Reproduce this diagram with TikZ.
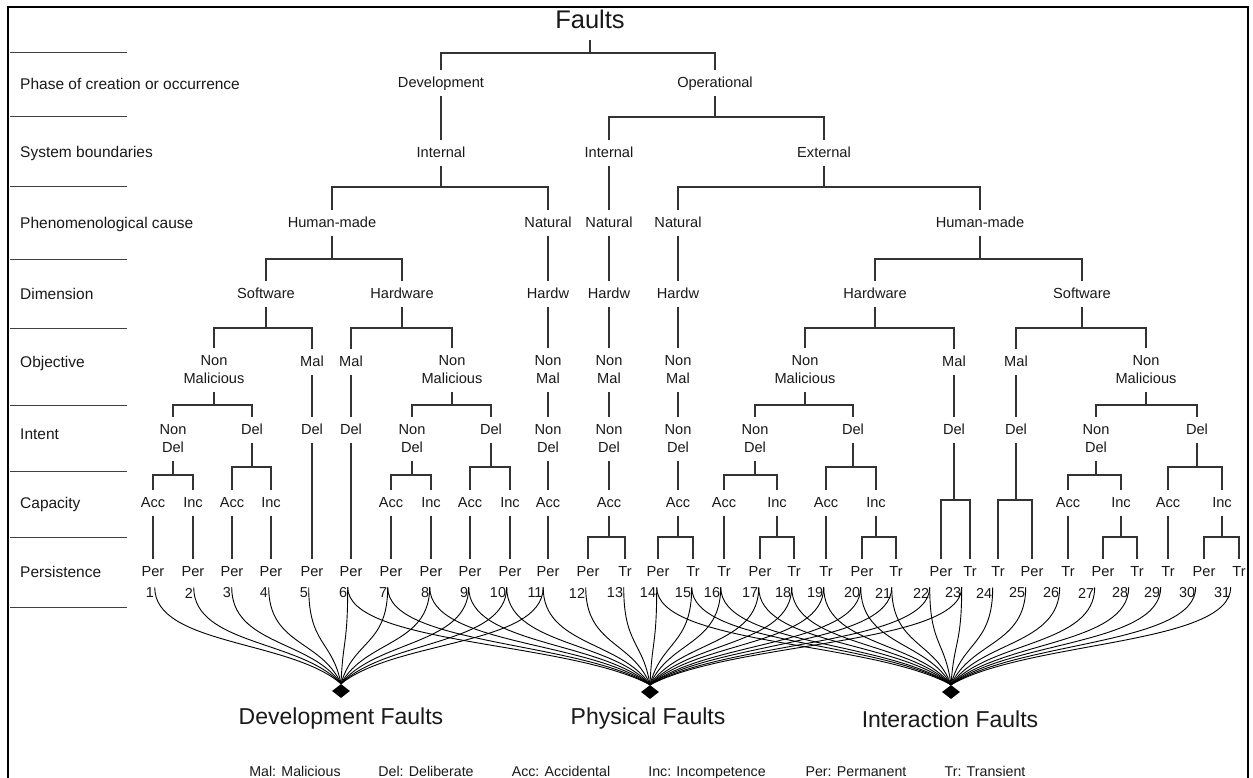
\documentclass[tikz,border=0pt]{standalone}
\usepackage{fontspec}
\setmainfont{Liberation Sans}
\usetikzlibrary{shapes.geometric,calc}
\newcommand{\tsplit}[4]{%
  \draw[edge] (#1.south) -- (#1.south |- 0,#4);
  \draw[edge] (#2.north) -- (#2.north |- 0,#4) -- (#3.north |- 0,#4) -- (#3.north);}
\newcommand{\tlink}[2]{\draw[edge] (#1.south) -- (#2.north);}
\begin{document}
\begin{tikzpicture}[x=1pt,y=-1pt,
  lab/.style={font=\fontsize{14.6}{18}\selectfont, text height=10.5pt, text depth=2pt, inner xsep=1pt, inner ysep=0pt, outer ysep=7pt, text=black!90},
  lab2/.style={font=\fontsize{14.6}{18}\selectfont, align=center, inner sep=0pt, outer ysep=8pt, text=black!90},
  edge/.style={line width=1.1pt, draw=black!80},
  rowlab/.style={anchor=west, font=\fontsize{15.5}{18}\selectfont, text height=11pt, text depth=0pt, inner sep=0pt, text=black!90},
  sepline/.style={line width=1pt, draw=black!75},
  num/.style={font=\fontsize{14.4}{16}\selectfont, inner sep=0.5pt, text=black!90},
  sink/.style={diamond, fill=black, minimum width=18pt, minimum height=14pt, inner sep=0pt},
  big/.style={font=\fontsize{23}{26}\selectfont, inner sep=0pt, text=black!90},
  legend/.style={font=\fontsize{14.2}{16}\selectfont, text height=10.5pt, text depth=0pt, inner sep=0pt, text=black!90},
  curve/.style={line width=0.9pt, draw=black}
]
\useasboundingbox (0,0) rectangle (1253,778);
\fill[white] (0,0) rectangle (1253,778);
% frame
\draw[line width=2.5pt] (8,800) -- (8,7) -- (1248,7) -- (1248,800);
% row separators
\foreach \yy in {53,117,187,259,328,405,471,537,607}
  \draw[sepline] (10,\yy) -- (127,\yy);
% row labels
\node[rowlab] (r1) at (20,84) {Phase of creation or occurrence};
\node[rowlab] (r2) at (20,152) {System boundaries};
\node[rowlab] (r3) at (20,223) {Phenomenological cause};
\node[rowlab] (r4) at (20,294) {Dimension};
\node[rowlab] (r5) at (20,362) {Objective};
\node[rowlab] (r6) at (20,434) {Intent};
\node[rowlab] (r7) at (20,503) {Capacity};
\node[rowlab] (r8) at (20,572) {Persistence};
% root
\node[font=\fontsize{25.5}{28}\selectfont, inner sep=0pt, text depth=0pt, outer ysep=12pt, text=black!90] (faults) at (590,19) {Faults};
% level 1
\node[lab] (dev) at (441,83) {Development};
\node[lab] (op) at (715,83) {Operational};
% level 2
\node[lab] (dint) at (441,153) {Internal};
\node[lab] (oint) at (609,153) {Internal};
\node[lab] (oext) at (824,153) {External};
% level 3
\node[lab] (dhm) at (332,223) {Human-made};
\node[lab] (dnat) at (548,223) {Natural};
\node[lab] (onat) at (609,223) {Natural};
\node[lab] (enat) at (678,223) {Natural};
\node[lab] (ehm) at (980,223) {Human-made};
% level 4
\node[lab] (dsw) at (266,294) {Software};
\node[lab] (dhw) at (402,294) {Hardware};
\node[lab] (dnh) at (548,294) {Hardw};
\node[lab] (onh) at (609,294) {Hardw};
\node[lab] (enh) at (678,294) {Hardw};
\node[lab] (ehw) at (875,294) {Hardware};
\node[lab] (esw) at (1082,294) {Software};
% level 5 objective
\node[lab2] (a1) at (214,370) {Non\\Malicious};
\node[lab] (a2) at (312,362) {Mal};
\node[lab] (a3) at (351,362) {Mal};
\node[lab2] (a4) at (452,370) {Non\\Malicious};
\node[lab2] (a5) at (548,370) {Non\\Mal};
\node[lab2] (a6) at (609,370) {Non\\Mal};
\node[lab2] (a7) at (678,370) {Non\\Mal};
\node[lab2] (a8) at (805,370) {Non\\Malicious};
\node[lab] (a9) at (954,362) {Mal};
\node[lab] (a10) at (1016,362) {Mal};
\node[lab2] (a11) at (1146,370) {Non\\Malicious};
% level 6 intent
\node[lab2] (b1) at (173,439) {Non\\Del};
\node[lab] (b2) at (252,430) {Del};
\node[lab] (b3) at (312,430) {Del};
\node[lab] (b4) at (351,430) {Del};
\node[lab2] (b5) at (412,439) {Non\\Del};
\node[lab] (b6) at (491,430) {Del};
\node[lab2] (b7) at (548,439) {Non\\Del};
\node[lab2] (b8) at (609,439) {Non\\Del};
\node[lab2] (b9) at (678,439) {Non\\Del};
\node[lab2] (b10) at (755,439) {Non\\Del};
\node[lab] (b11) at (853,430) {Del};
\node[lab] (b12) at (954,430) {Del};
\node[lab] (b13) at (1016,430) {Del};
\node[lab2] (b14) at (1096,439) {Non\\Del};
\node[lab] (b15) at (1197,430) {Del};
% level 7 capacity
\foreach \i/\x/\t in {1/153/Acc,2/193/Inc,3/232/Acc,4/271/Inc,5/391/Acc,6/431/Inc,7/470/Acc,8/510/Inc,9/548/Acc,10/609/Acc,11/678/Acc,12/724/Acc,13/777/Inc,14/826/Acc,15/876/Inc,16/1068/Acc,17/1121/Inc,18/1168/Acc,19/1222/Inc}
  \node[lab] (c\i) at (\x,503) {\t};
% level 8 persistence + numbers
\foreach \i/\x/\t/\nx in {1/153/Per/150,2/193/Per/189,3/232/Per/227,4/271/Per/264,5/312/Per/304,6/351/Per/343,7/391/Per/383,8/431/Per/425,9/470/Per/464,10/510/Per/498,11/548/Per/535,12/588/Per/577,13/625/Tr/615,14/658/Per/648,15/693/Tr/683,16/724/Tr/712,17/760/Per/750,18/794/Tr/783,19/826/Tr/815,20/862/Per/852,21/896/Tr/883,22/941/Per/921,23/970/Tr/953,24/998/Tr/984,25/1032/Per/1017,26/1068/Tr/1051,27/1103/Per/1086,28/1137/Tr/1120,29/1168/Tr/1152,30/1204/Per/1187,31/1239/Tr/1222}
{
  \node[lab] (p\i) at (\x,572) {\t};
  \node[num] (n\i) at (\nx,593) {\i};
}
% tree connectors
\tsplit{faults}{dev}{op}{53}
\tlink{dev}{dint}
\tsplit{op}{oint}{oext}{117}
\tsplit{dint}{dhm}{dnat}{187}
\tlink{oint}{onat}
\tsplit{oext}{enat}{ehm}{187}
\tsplit{dhm}{dsw}{dhw}{259}
\tlink{dnat}{dnh}
\tlink{onat}{onh}
\tlink{enat}{enh}
\tsplit{ehm}{ehw}{esw}{259}
\tsplit{dsw}{a1}{a2}{328}
\tsplit{dhw}{a3}{a4}{328}
\tlink{dnh}{a5}
\tlink{onh}{a6}
\tlink{enh}{a7}
\tsplit{ehw}{a8}{a9}{328}
\tsplit{esw}{a10}{a11}{328}
\tsplit{a1}{b1}{b2}{405}
\tlink{a2}{b3}
\tlink{a3}{b4}
\tsplit{a4}{b5}{b6}{405}
\tlink{a5}{b7}
\tlink{a6}{b8}
\tlink{a7}{b9}
\tsplit{a8}{b10}{b11}{405}
\tlink{a9}{b12}
\tlink{a10}{b13}
\tsplit{a11}{b14}{b15}{405}
\tsplit{b1}{c1}{c2}{475}
\tsplit{b2}{c3}{c4}{467}
\tlink{b3}{p5}
\tlink{b4}{p6}
\tsplit{b5}{c5}{c6}{475}
\tsplit{b6}{c7}{c8}{467}
\tlink{b7}{c9}
\tlink{b8}{c10}
\tlink{b9}{c11}
\tsplit{b10}{c12}{c13}{475}
\tsplit{b11}{c14}{c15}{467}
\tsplit{b12}{p22}{p23}{500}
\tsplit{b13}{p24}{p25}{500}
\tsplit{b14}{c16}{c17}{475}
\tsplit{b15}{c18}{c19}{467}
\tlink{c1}{p1}
\tlink{c2}{p2}
\tlink{c3}{p3}
\tlink{c4}{p4}
\tlink{c5}{p7}
\tlink{c6}{p8}
\tlink{c7}{p9}
\tlink{c8}{p10}
\tlink{c9}{p11}
\tsplit{c10}{p12}{p13}{537}
\tsplit{c11}{p14}{p15}{537}
\tlink{c12}{p16}
\tsplit{c13}{p17}{p18}{537}
\tlink{c14}{p19}
\tsplit{c15}{p20}{p21}{537}
\tlink{c16}{p26}
\tsplit{c17}{p27}{p28}{537}
\tlink{c18}{p29}
\tsplit{c19}{p30}{p31}{537}
% sinks
\node[sink] (sd) at (341,691) {};
\node[sink] (sp) at (650,692) {};
\node[sink] (si) at (951,692) {};
% curves
\foreach \i in {1,...,11}
  \draw[curve] (n\i.north east) .. controls ($(n\i.north east)+(0,58)$) and ($(sd.north)!0.27!(n\i.north east |- sd.north)+(0,-44)$) .. (sd.north);
\foreach \i in {6,...,23}
  \draw[curve] (n\i.north east) .. controls ($(n\i.north east)+(0,58)$) and ($(sp.north)!0.27!(n\i.north east |- sp.north)+(0,-44)$) .. (sp.north);
\foreach \i in {14,...,31}
  \draw[curve] (n\i.north east) .. controls ($(n\i.north east)+(0,58)$) and ($(si.north)!0.27!(n\i.north east |- si.north)+(0,-44)$) .. (si.north);
% bottom labels
\node[big] (ld) at (341,719) {Development Faults};
\node[big] (lp) at (648,719) {Physical Faults};
\node[big] (li) at (950,719) {Interaction Faults};
% legend
\node[legend] (g1) at (295,771) {Mal: Malicious};
\node[legend] (g2) at (426,771) {Del: Deliberate};
\node[legend] (g3) at (561,771) {Acc: Accidental};
\node[legend] (g4) at (707,771) {Inc: Incompetence};
\node[legend] (g5) at (856,771) {Per: Permanent};
\node[legend] (g6) at (985,771) {Tr: Transient};
\end{tikzpicture}
\end{document}
